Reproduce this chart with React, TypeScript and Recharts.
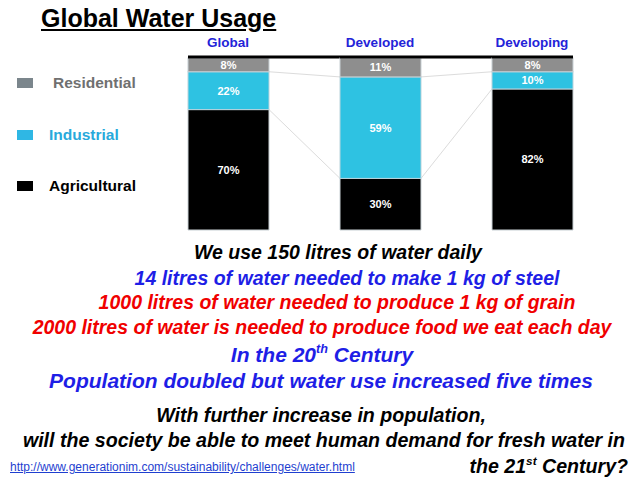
import { BarChart, Bar, XAxis, YAxis, Legend, LabelList } from "recharts"

const regions = ["Global", "Developed", "Developing"]
const agricultural = [70, 30, 82]
const industrial = [22, 59, 10]
const residential = [8, 11, 8]

const data = regions.map((name, i) => ({
  name,
  agricultural: agricultural[i],
  industrial: industrial[i],
  residential: residential[i],
}))

const W = 640
const H = 480
const AXIS_H = 20
const M = { top: 58 - AXIS_H, right: 32, bottom: 250, left: 152 }
const STEP = (W - M.left - M.right) / regions.length
const BAR_W = 81

const legendItems = [
  { key: "residential", label: "Residential", box: "#7b868c", text: "#707070", top: 78, textLeft: 53 },
  { key: "industrial", label: "Industrial", box: "#2fb7e4", text: "#29a9db", top: 130, textLeft: 49 },
  { key: "agricultural", label: "Agricultural", box: "#000000", text: "#000000", top: 181, textLeft: 49 },
]

const sans = "'Liberation Sans', Arial, sans-serif"

function IndustrialShape(props: any) {
  const { x, y, width, height, index, fill } = props
  const px = height / industrial[index]
  const base = y + height + agricultural[index] * px
  const last = index === regions.length - 1
  let links = null
  if (!last) {
    const nx = x + STEP
    const nTop = base - (agricultural[index + 1] + industrial[index + 1]) * px
    const nBot = base - agricultural[index + 1] * px
    links = (
      <g stroke="#dcdcdc" strokeWidth={1}>
        <line x1={x + width} y1={y} x2={nx} y2={nTop} />
        <line x1={x + width} y1={y + height} x2={nx} y2={nBot} />
      </g>
    )
  }
  return (
    <g>
      {links}
      <rect x={x} y={y} width={width} height={height} fill={fill} stroke="#b9d3dc" strokeWidth={1} />
    </g>
  )
}

function ResidentialShape(props: any) {
  const { x, y, width, height, index, fill } = props
  const last = index === regions.length - 1
  const end = last ? x + width : x + STEP
  return (
    <g>
      <rect x={x} y={y} width={width} height={height} fill={fill} stroke="#c8d0d4" strokeWidth={1} />
      <line x1={x} y1={y - 1} x2={end} y2={y - 1} stroke="#000" strokeWidth={3} />
    </g>
  )
}

function LegendBox() {
  return (
    <div style={{ position: "relative", width: 150, height: 140 }}>
      {legendItems.map((it) => (
        <div key={it.key}>
          <div style={{ position: "absolute", left: 17, top: it.top - 70, width: 16, height: 10, background: it.box }} />
          <div
            style={{
              position: "absolute",
              left: it.textLeft,
              top: it.top - 70 - 4,
              fontFamily: sans,
              fontWeight: "bold",
              fontSize: 15.5,
              color: it.text,
              whiteSpace: "nowrap",
            }}
          >
            {it.label}
          </div>
        </div>
      ))}
    </div>
  )
}

function Line({ cx, top, size, color, children }: any) {
  return (
    <div
      style={{
        position: "absolute",
        left: cx - 320,
        width: 640,
        top,
        textAlign: "center",
        fontFamily: sans,
        fontWeight: "bold",
        fontStyle: "italic",
        fontSize: size,
        lineHeight: 1,
        color,
        whiteSpace: "nowrap",
      }}
    >
      {children}
    </div>
  )
}

const supStyle = { fontSize: "0.6em", verticalAlign: "0.7em" }

export default function App() {
  return (
    <div style={{ position: "absolute", left: 0, top: 0, width: W, height: H, background: "#fff", overflow: "hidden" }}>
      <div
        style={{
          position: "absolute",
          left: 41,
          top: 4,
          fontFamily: sans,
          fontWeight: "bold",
          fontSize: 25,
          textDecoration: "underline",
          color: "#000",
          whiteSpace: "nowrap",
        }}
      >
        Global Water Usage
      </div>

      <div style={{ position: "absolute", left: 0, top: 0 }}>
        <BarChart width={W} height={H} data={data} margin={M} barSize={BAR_W}>
          <XAxis
            dataKey="name"
            orientation="top"
            height={AXIS_H}
            axisLine={false}
            tickLine={false}
            tickMargin={5}
            tick={{ fill: "#2323d8", fontSize: 13.5, fontWeight: "bold", fontFamily: sans }}
          />
          <YAxis hide domain={[0, 100]} />
          <Legend
            layout="horizontal"
            verticalAlign="middle"
            align="center"
            content={() => <LegendBox />}
            wrapperStyle={{ position: "absolute", left: 0, top: 70, width: 150 }}
          />
          <Bar dataKey="agricultural" stackId="a" fill="#000000" stroke="#c8d0d4" isAnimationActive={false}>
            <LabelList dataKey="agricultural" position="center" formatter={(v: any) => `${v}%`} fill="#fff" fontSize={11} fontWeight="bold" fontFamily={sans} />
          </Bar>
          <Bar dataKey="industrial" stackId="a" fill="#2ec2e2" shape={<IndustrialShape />} isAnimationActive={false}>
            <LabelList dataKey="industrial" position="center" formatter={(v: any) => `${v}%`} fill="#fff" fontSize={11} fontWeight="bold" fontFamily={sans} />
          </Bar>
          <Bar dataKey="residential" stackId="a" fill="#8e8e8e" shape={<ResidentialShape />} isAnimationActive={false}>
            <LabelList dataKey="residential" position="center" formatter={(v: any) => `${v}%`} fill="#fff" fontSize={11} fontWeight="bold" fontFamily={sans} />
          </Bar>
        </BarChart>
      </div>

      <Line cx={338} top={243} size={19.5} color="#000">We use 150 litres of water daily</Line>
      <Line cx={347} top={269} size={19.5} color="#1e1ee6">14 litres of water needed to make 1 kg of steel</Line>
      <Line cx={337} top={293} size={19.5} color="#f00000">1000 litres of water needed to produce 1 kg of grain</Line>
      <Line cx={322} top={318} size={19.5} color="#f00000">2000 litres of water is needed to produce food we eat each day</Line>
      <Line cx={322} top={343} size={21} color="#1e1ee6">
        In the 20<sup style={supStyle}>th</sup> Century
      </Line>
      <Line cx={321} top={370} size={21} color="#1e1ee6">Population doubled but water use increased five times</Line>
      <Line cx={321} top={406} size={19.6} color="#000">With further increase in population,</Line>
      <Line cx={324} top={431} size={19.6} color="#000">will the society be able to meet human demand for fresh water in</Line>
      <div
        style={{
          position: "absolute",
          right: 12,
          top: 455,
          fontFamily: sans,
          fontWeight: "bold",
          fontStyle: "italic",
          fontSize: 19.6,
          lineHeight: 1,
          color: "#000",
          whiteSpace: "nowrap",
        }}
      >
        the 21<sup style={supStyle}>st</sup> Century?
      </div>
      <a
        href="http://www.generationim.com/sustainability/challenges/water.html"
        style={{ position: "absolute", left: 10, top: 460, fontFamily: sans, fontSize: 12, color: "#1f3fd0", textDecoration: "underline", whiteSpace: "nowrap" }}
      >
        http://www.generationim.com/sustainability/challenges/water.html
      </a>
    </div>
  )
}
